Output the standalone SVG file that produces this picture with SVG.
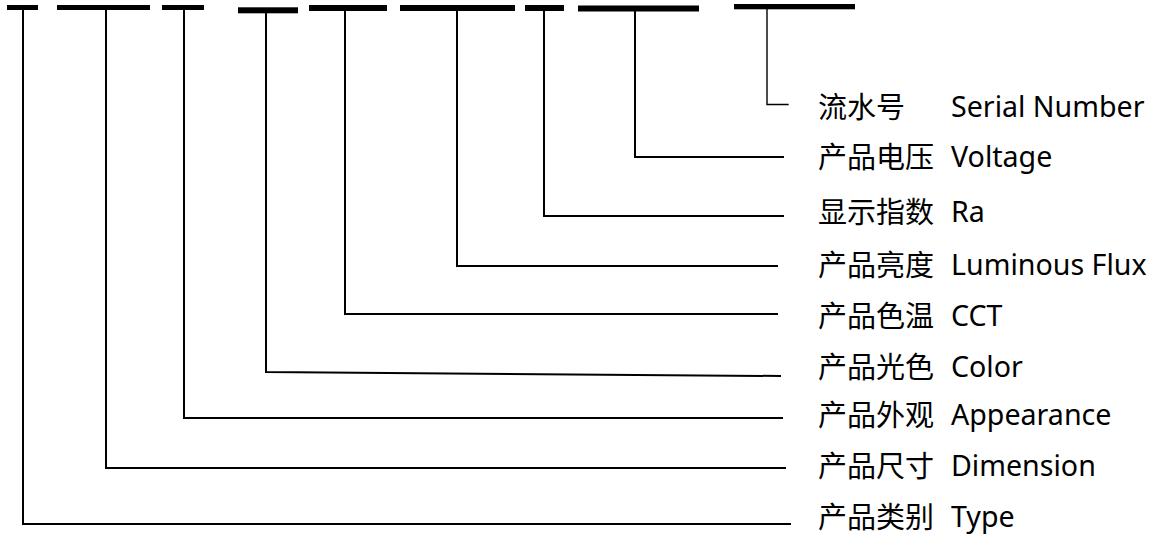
<svg xmlns="http://www.w3.org/2000/svg" width="1166" height="535" viewBox="0 0 1166 535">
<style>
.bar{fill:#000}
.lead{fill:none;stroke:#000;stroke-width:2;stroke-linecap:square}
.thin{stroke-width:1.4}
.cn{font-family:"Noto Sans CJK SC","Noto Sans",sans-serif;font-size:29px;fill:#000}
.en{font-family:"Noto Sans","Noto Sans CJK SC",sans-serif;font-size:28.6px;fill:#000}
</style>
<rect width="1166" height="535" fill="#fff"/>
<g id="connectors">
<polyline class="lead" points="23,10 23,524 790,524"/>
<polyline class="lead" points="106,10 106,468 785,468"/>
<polyline class="lead" points="184,10 184,418 782,418"/>
<polyline class="lead" points="266,13 266,372 780,376"/>
<polyline class="lead" points="345,11 345,314 777,314"/>
<polyline class="lead" points="457,11 457,266 777,266"/>
<polyline class="lead" points="544,11 544,216 783,216"/>
<polyline class="lead" points="635,11 635,157 783,157"/>
<polyline class="lead thin" points="767,9 767,104.5 788,104.5"/>
</g>
<g id="type"><rect class="bar" x="7" y="5" width="31" height="5"/><text class="cn" x="818" y="528">产品类别</text><text class="en" x="951" y="527">Type</text></g>
<g id="dimension"><rect class="bar" x="57" y="5" width="93" height="5"/><text class="cn" x="818" y="477">产品尺寸</text><text class="en" x="951" y="476">Dimension</text></g>
<g id="appearance"><rect class="bar" x="162" y="5" width="42" height="5"/><text class="cn" x="818" y="426">产品外观</text><text class="en" x="951" y="425">Appearance</text></g>
<g id="color"><rect class="bar" x="238" y="7.3" width="60" height="6"/><text class="cn" x="818" y="378">产品光色</text><text class="en" x="951" y="377">Color</text></g>
<g id="cct"><rect class="bar" x="309" y="5" width="78" height="6"/><text class="cn" x="818" y="327">产品色温</text><text class="en" x="951" y="326">CCT</text></g>
<g id="luminous"><rect class="bar" x="400" y="5" width="115" height="6"/><text class="cn" x="818" y="276">产品亮度</text><text class="en" x="951" y="275">Luminous Flux</text></g>
<g id="ra"><rect class="bar" x="525" y="5" width="39" height="6"/><text class="cn" x="818" y="223">显示指数</text><text class="en" x="951" y="222">Ra</text></g>
<g id="voltage"><rect class="bar" x="578" y="5.5" width="121" height="6"/><text class="cn" x="818" y="168">产品电压</text><text class="en" x="951" y="167">Voltage</text></g>
<g id="serial"><rect class="bar" x="734" y="4" width="121" height="5.3"/><text class="cn" x="818" y="118">流水号</text><text class="en" x="951" y="117">Serial Number</text></g>
</svg>
